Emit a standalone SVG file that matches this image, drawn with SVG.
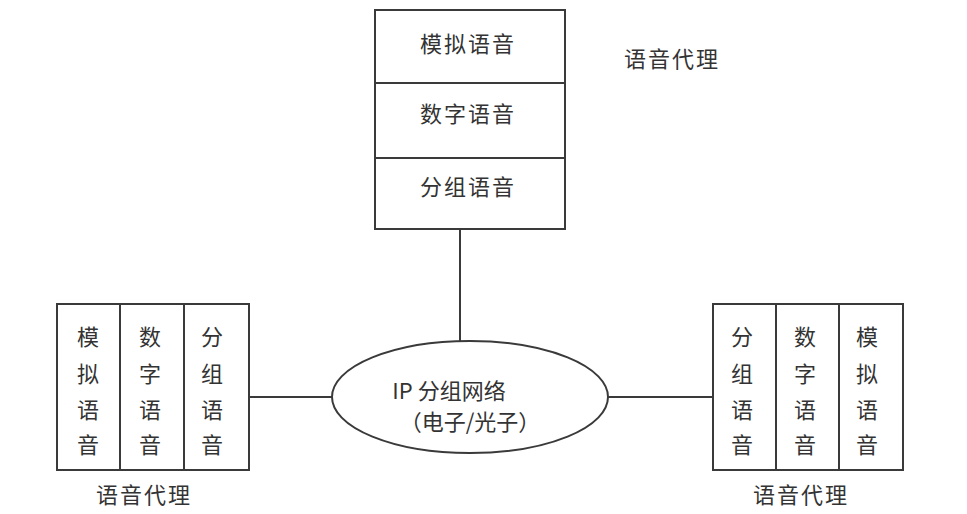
<svg xmlns="http://www.w3.org/2000/svg" width="967" height="514" viewBox="0 0 967 514">
<style>
.b{fill:#fff;stroke:#3a3a3a;stroke-width:2}
.l{stroke:#3a3a3a;stroke-width:2;fill:none}
text{font-family:"Noto Sans CJK SC","Liberation Sans",sans-serif;font-size:22px;fill:#333;text-anchor:middle;dominant-baseline:central}
.h{letter-spacing:2px}
</style>
<rect width="967" height="514" fill="#fff"/>
<g id="connectors">
<line class="l" x1="460" y1="229" x2="460" y2="341"/>
<line class="l" x1="249" y1="397" x2="332" y2="397"/>
<line class="l" x1="608" y1="397" x2="713" y2="397"/>
</g>
<g id="top-agent">
<rect class="b" x="375" y="10" width="190" height="219"/>
<line class="l" x1="375" y1="83" x2="565" y2="83"/>
<line class="l" x1="375" y1="158" x2="565" y2="158"/>
<text class="h" x="468" y="42">模拟语音</text>
<text class="h" x="468" y="112">数字语音</text>
<text class="h" x="468" y="185">分组语音</text>
<text class="h" x="672" y="57">语音代理</text>
</g>
<g id="network">
<ellipse class="b" cx="470" cy="397" rx="138" ry="56"/>
<text x="449" y="389">IP 分组网络</text>
<text x="470" y="420">（电子/光子）</text>
</g>
<g id="left-agent">
<rect class="b" x="57" y="304" width="192" height="166"/>
<line class="l" x1="120" y1="304" x2="120" y2="470"/>
<line class="l" x1="184" y1="304" x2="184" y2="470"/>
<text x="88" y="335">模</text><text x="88" y="372">拟</text><text x="88" y="408">语</text><text x="88" y="443">音</text>
<text x="150" y="335">数</text><text x="150" y="372">字</text><text x="150" y="408">语</text><text x="150" y="443">音</text>
<text x="212" y="335">分</text><text x="212" y="372">组</text><text x="212" y="408">语</text><text x="212" y="443">音</text>
<text class="h" x="144" y="493">语音代理</text>
</g>
<g id="right-agent">
<rect class="b" x="713" y="304" width="190" height="166"/>
<line class="l" x1="776" y1="304" x2="776" y2="470"/>
<line class="l" x1="839" y1="304" x2="839" y2="470"/>
<text x="742" y="335">分</text><text x="742" y="372">组</text><text x="742" y="408">语</text><text x="742" y="443">音</text>
<text x="805" y="335">数</text><text x="805" y="372">字</text><text x="805" y="408">语</text><text x="805" y="443">音</text>
<text x="867" y="335">模</text><text x="867" y="372">拟</text><text x="867" y="408">语</text><text x="867" y="443">音</text>
<text class="h" x="801" y="493">语音代理</text>
</g>
</svg>
